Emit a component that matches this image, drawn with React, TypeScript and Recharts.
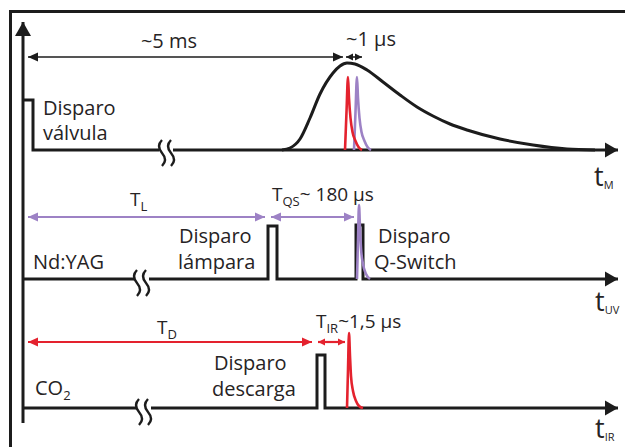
import { ComposedChart, Line, Scatter, XAxis, YAxis } from "recharts";

const W = 625;
const H = 447;
const INK = "#1c1c1c";
const TEXT = "#262324";
const RED = "#e4222e";
const PURPLE = "#9d82c5";
const FONT = "'Open Sans', 'Noto Sans', sans-serif";

// sketch units: x = position along the (broken) time axis, y = level, growing downwards

// row M: valve trigger + molecular beam pulse
const valveTraceA = [
  { x: 23, y: 100 }, { x: 33, y: 100 }, { x: 33, y: 150 }, { x: 159, y: 150 },
];
const valveTraceB = [{ x: 173, y: 150 }, { x: 618, y: 150 }];
const beamPulse = [
  { x: 282, y: 150 }, { x: 290, y: 148 }, { x: 300, y: 139 }, { x: 310, y: 118 },
  { x: 320, y: 94 }, { x: 333, y: 73 }, { x: 340, y: 66 }, { x: 347, y: 63 },
  { x: 355, y: 64 }, { x: 367, y: 70 }, { x: 383, y: 82 }, { x: 400, y: 95 },
  { x: 417, y: 107 }, { x: 433, y: 116 }, { x: 450, y: 124 }, { x: 467, y: 130 },
  { x: 500, y: 139 }, { x: 533, y: 145 }, { x: 567, y: 149 }, { x: 595, y: 150 },
];
const irPulseM = [
  { x: 345, y: 150 }, { x: 346.5, y: 112 }, { x: 348, y: 77 }, { x: 349, y: 98 },
  { x: 350.5, y: 118 }, { x: 352.5, y: 132 }, { x: 355.5, y: 141 }, { x: 358.5, y: 147 },
  { x: 362, y: 150 },
];
const uvPulseM = [
  { x: 354, y: 150 }, { x: 355.5, y: 112 }, { x: 357, y: 77 }, { x: 358, y: 98 },
  { x: 359.5, y: 118 }, { x: 361.5, y: 132 }, { x: 364.5, y: 141 }, { x: 367.5, y: 147 },
  { x: 371, y: 150 },
];

// row UV: Nd:YAG lamp + Q-switch triggers
const yagTraceA = [{ x: 23, y: 279 }, { x: 134, y: 279 }];
const yagTraceB = [
  { x: 149, y: 279 }, { x: 268, y: 279 }, { x: 268, y: 226 }, { x: 277, y: 226 },
  { x: 277, y: 279 }, { x: 356, y: 279 }, { x: 356, y: 225 }, { x: 363, y: 225 },
  { x: 363, y: 279 }, { x: 618, y: 279 },
];
const uvPulse = [
  { x: 357, y: 279 }, { x: 358, y: 240 }, { x: 359, y: 205 }, { x: 360, y: 228 },
  { x: 361, y: 248 }, { x: 363, y: 264 }, { x: 366, y: 274 }, { x: 370, y: 279 },
];

// row IR: CO2 discharge trigger
const co2TraceA = [{ x: 23, y: 408 }, { x: 136, y: 408 }];
const co2TraceB = [
  { x: 151, y: 408 }, { x: 317, y: 408 }, { x: 317, y: 355 }, { x: 325, y: 355 },
  { x: 325, y: 408 }, { x: 618, y: 408 },
];
const irPulse = [
  { x: 347, y: 408 }, { x: 348, y: 370 }, { x: 349, y: 333 }, { x: 350, y: 356 },
  { x: 351, y: 376 }, { x: 353, y: 391 }, { x: 356, y: 401 }, { x: 359, y: 406 },
  { x: 363, y: 408 },
];

const verticalAxis = [{ x: 23, y: 423 }, { x: 23, y: 22 }];

// interval arrows: [from, to, level]
const delayArrows = [
  { name: "~5 ms", from: 28, to: 343, at: 57, color: INK },
  { name: "~1 µs", from: 346, to: 362, at: 57, color: INK },
  { name: "TL", from: 28, to: 265, at: 217, color: PURPLE },
  { name: "TQS", from: 271, to: 354, at: 217, color: PURPLE },
  { name: "TD", from: 28, to: 312, at: 342, color: RED },
  { name: "TIR", from: 318, to: 345, at: 342, color: RED },
];

const axisBreaks = [
  { x: 166, y: 153 },
  { x: 141, y: 283 },
  { x: 143, y: 412 },
];

type Part = string | { sub: string };
const labels: { x: number; y: number; kind: string; parts: Part[]; anchor?: string }[] = [
  { x: 169, y: 48, kind: "text", parts: ["~5 ms"], anchor: "middle" },
  { x: 346, y: 46, kind: "text", parts: ["~1 µs"] },
  { x: 43, y: 115, kind: "text", parts: ["Disparo"] },
  { x: 43, y: 140, kind: "text", parts: ["válvula"] },
  { x: 594, y: 186, kind: "axis", parts: ["t", { sub: "M" }] },
  { x: 130, y: 206, kind: "small", parts: ["T", { sub: "L" }] },
  { x: 272, y: 201, kind: "small", parts: ["T", { sub: "QS" }, "~ 180 µs"] },
  { x: 179, y: 243, kind: "text", parts: ["Disparo"] },
  { x: 178, y: 269, kind: "text", parts: ["lámpara"] },
  { x: 33, y: 269, kind: "text", parts: ["Nd:YAG"] },
  { x: 378, y: 243, kind: "text", parts: ["Disparo"] },
  { x: 374, y: 269, kind: "text", parts: ["Q-Switch"] },
  { x: 595, y: 311, kind: "axis", parts: ["t", { sub: "UV" }] },
  { x: 157, y: 334, kind: "small", parts: ["T", { sub: "D" }] },
  { x: 316, y: 328, kind: "small", parts: ["T", { sub: "IR" }, "~1,5 µs"] },
  { x: 214, y: 370, kind: "text", parts: ["Disparo"] },
  { x: 212, y: 396, kind: "text", parts: ["descarga"] },
  { x: 35, y: 395, kind: "text", parts: ["CO", { sub: "2" }] },
  { x: 595, y: 438, kind: "axis", parts: ["t", { sub: "IR" }] },
];

const TEXT_KIND: Record<string, { size: number; sub: number; drop: number }> = {
  text: { size: 20, sub: 13, drop: 5 },
  small: { size: 19, sub: 13, drop: 5 },
  axis: { size: 27, sub: 11, drop: 3 },
};

function head(cx: number, cy: number, dir: string, len: number, hw: number, fill: string, key: string) {
  let d = "";
  if (dir === "right") d = `M${cx},${cy}L${cx - len},${cy - hw}L${cx - len},${cy + hw}Z`;
  if (dir === "left") d = `M${cx},${cy}L${cx + len},${cy - hw}L${cx + len},${cy + hw}Z`;
  if (dir === "up") d = `M${cx},${cy}L${cx - hw},${cy + len}L${cx + hw},${cy + len}Z`;
  return <path key={key} d={d} fill={fill} stroke="none" />;
}

const endArrow = (n: number, dir: string, len: number, hw: number) => (p: any) =>
  p.index === n - 1 ? head(p.cx, p.cy, dir, len, hw, INK, `a${p.index}`) : <g key={`a${p.index}`} />;

const bothArrows = (color: string, short: boolean) => (p: any) => {
  const len = short ? 7 : 10;
  const hw = short ? 3.5 : 4.5;
  return head(p.cx, p.cy, p.index === 0 ? "left" : "right", len, hw, color, `b${p.index}`);
};

function renderBreak(p: any) {
  const { cx, cy } = p;
  const s = (x: number) => `M${x + 2},${cy - 13} q-6,6 0,13 q6,7 0,13`;
  return (
    <g>
      <path d={s(cx - 6)} fill="none" stroke={INK} strokeWidth={2.4} />
      <path d={s(cx + 3)} fill="none" stroke={INK} strokeWidth={2.4} />
    </g>
  );
}

function renderLabel(p: any) {
  const { cx, cy, payload } = p;
  const k = TEXT_KIND[payload.kind];
  let lowered = false;
  return (
    <text x={cx} y={cy} textAnchor={payload.anchor ?? "start"} fontFamily={FONT} fontSize={k.size} fill={TEXT}>
      {payload.parts.map((part: Part, i: number) => {
        if (typeof part === "string") {
          const dy = lowered ? -k.drop : 0;
          lowered = false;
          return <tspan key={i} dy={dy}>{part}</tspan>;
        }
        lowered = true;
        return <tspan key={i} dy={k.drop} fontSize={k.sub}>{part.sub}</tspan>;
      })}
    </text>
  );
}

function trace(key: string, data: { x: number; y: number }[], color: string, width: number, smooth = false, dot: any = false) {
  return (
    <Line
      key={key}
      data={data}
      dataKey="y"
      type={smooth ? "monotone" : "linear"}
      stroke={color}
      strokeWidth={width}
      strokeLinejoin="miter"
      dot={dot}
      activeDot={false}
      isAnimationActive={false}
    />
  );
}

export default function App() {
  return (
    <div style={{ position: "absolute", left: 0, top: 0, width: W, height: H, background: "#fff", overflow: "hidden" }}>
      <div
        style={{
          position: "absolute", left: 9, top: 10, width: 700, height: 500,
          borderTop: `3px solid ${INK}`, borderLeft: `3px solid ${INK}`,
        }}
      />
      <div style={{ position: "absolute", left: 0, top: 0 }}>
        <ComposedChart width={W} height={H} margin={{ top: 0, right: 0, bottom: 0, left: 0 }}>
          <XAxis type="number" dataKey="x" domain={[0, W]} hide />
          <YAxis type="number" domain={[0, H]} reversed hide />
          {trace("vaxis", verticalAxis, INK, 3, false, endArrow(2, "up", 14, 8))}
          {trace("valveA", valveTraceA, INK, 3)}
          {trace("valveB", valveTraceB, INK, 3, false, endArrow(2, "right", 13, 7.5))}
          {trace("beam", beamPulse, INK, 3, true)}
          {trace("uvM", uvPulseM, PURPLE, 2.6, true)}
          {trace("irM", irPulseM, RED, 2.6, true)}
          {trace("yagA", yagTraceA, INK, 3)}
          {trace("yagB", yagTraceB, INK, 3, false, endArrow(yagTraceB.length, "right", 13, 7.5))}
          {trace("uv", uvPulse, PURPLE, 2.6, true)}
          {trace("co2A", co2TraceA, INK, 3)}
          {trace("co2B", co2TraceB, INK, 3, false, endArrow(co2TraceB.length, "right", 13, 7.5))}
          {trace("ir", irPulse, RED, 2.6, true)}
          {delayArrows.map((a) =>
            trace(
              `arr-${a.name}`,
              [{ x: a.from, y: a.at }, { x: a.to, y: a.at }],
              a.color,
              a.color === INK ? 1.6 : 2.2,
              false,
              bothArrows(a.color, a.to - a.from < 40),
            ),
          )}
          <Scatter data={axisBreaks} dataKey="y" shape={renderBreak} isAnimationActive={false} />
          <Scatter data={labels} dataKey="y" shape={renderLabel} isAnimationActive={false} />
        </ComposedChart>
      </div>
    </div>
  );
}
